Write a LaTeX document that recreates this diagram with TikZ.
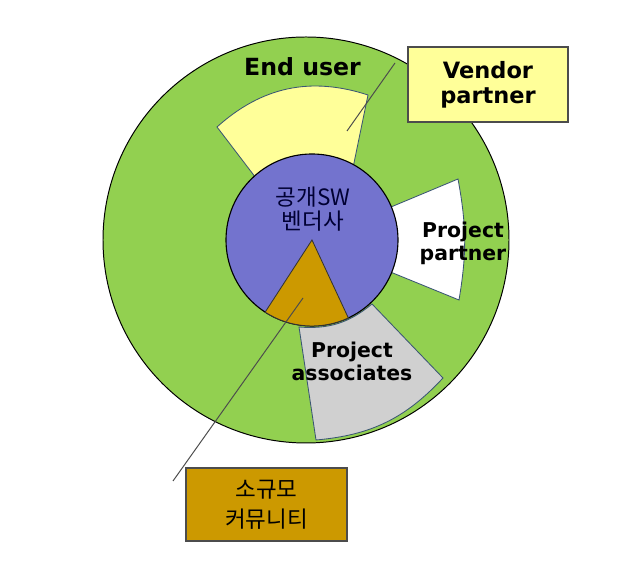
\documentclass[tikz,border=0pt]{standalone}
\usepackage{fontspec}
\setmainfont{DejaVu Sans}
\newfontfamily\krfont{Noto Sans CJK KR}
\definecolor{ringgreen}{HTML}{92D050}
\definecolor{corepurple}{HTML}{7373CE}
\definecolor{commgold}{HTML}{CC9900}
\definecolor{vendyellow}{HTML}{FFFF99}
\definecolor{assocgray}{HTML}{D0D0D0}
\definecolor{edgeblue}{HTML}{3A5673}

\begin{document}
\begin{tikzpicture}[x=0.025cm, y=0.025cm,
    sector/.style={draw=edgeblue, line width=0.6pt},
    label/.style={font=\fontsize{14.5}{16.3}\selectfont\bfseries, align=center, text=black},
    callout/.style={draw=black!70, line width=0.8pt, align=center, text=black},
    leader/.style={draw=black!70, line width=0.7pt}
]
    \useasboundingbox (0,0) rectangle (618,576);

    % Ring: End user
    \filldraw[fill=ringgreen, draw=black, line width=0.7pt] (306,336) circle (203);
    \coordinate (core) at (312,336);

    % Sectors round the core
    \filldraw[sector, fill=vendyellow] (core) -- (275,373) -- (217,449) to[bend left=30] (368,481) -- (348,384) -- cycle;
    \filldraw[sector, fill=white] (core) -- (458,397) to[bend left=10] (459,276) -- cycle;
    \filldraw[sector, fill=assocgray] (299,249) to[bend right=22] (372,272) -- (443,198) to[bend left=21] (316,136) -- cycle;

    % Core: vendor and community
    \filldraw[fill=corepurple, draw=black, line width=0.8pt] (core) circle (86);
    \filldraw[draw=black!80, line width=0.6pt, fill=commgold] (core) -- ++(237:86) arc[start angle=237, end angle=295, radius=86] -- cycle;

    % Labels
    \node[label, font=\fontsize{16.8}{18}\selectfont\bfseries] (enduser) at (302.5,509) {End user};
    \node[label] (partner) at (463,333) {Project\\partner};
    \node[label] (assoc) at (352,215) {Project\\associates};
    \node[align=center, text=black!80!blue, font=\krfont\fontsize{16}{17.4}\selectfont] (vendor) at (313,367) {공개SW\\벤더사};

    % Callouts
    \node[callout, fill=vendyellow, minimum width=4cm, minimum height=1.875cm, font=\fontsize{16}{17.7}\selectfont\bfseries] (vbox) at (488,491.5) {Vendor\\partner};
    \node[callout, fill=commgold, minimum width=4.025cm, minimum height=1.825cm, font=\krfont\fontsize{16}{21.3}\selectfont] (cbox) at (266.5,71.5) {소규모\\커뮤니티};

    % Leader lines
    \coordinate (vtail) at (395,513);
    \coordinate (vhead) at (347,445);
    \draw[leader] (vtail) -- (vhead);
    \coordinate (ctail) at (173,95);
    \coordinate (chead) at (303,278);
    \draw[leader] (ctail) -- (chead);
\end{tikzpicture}
\end{document}
